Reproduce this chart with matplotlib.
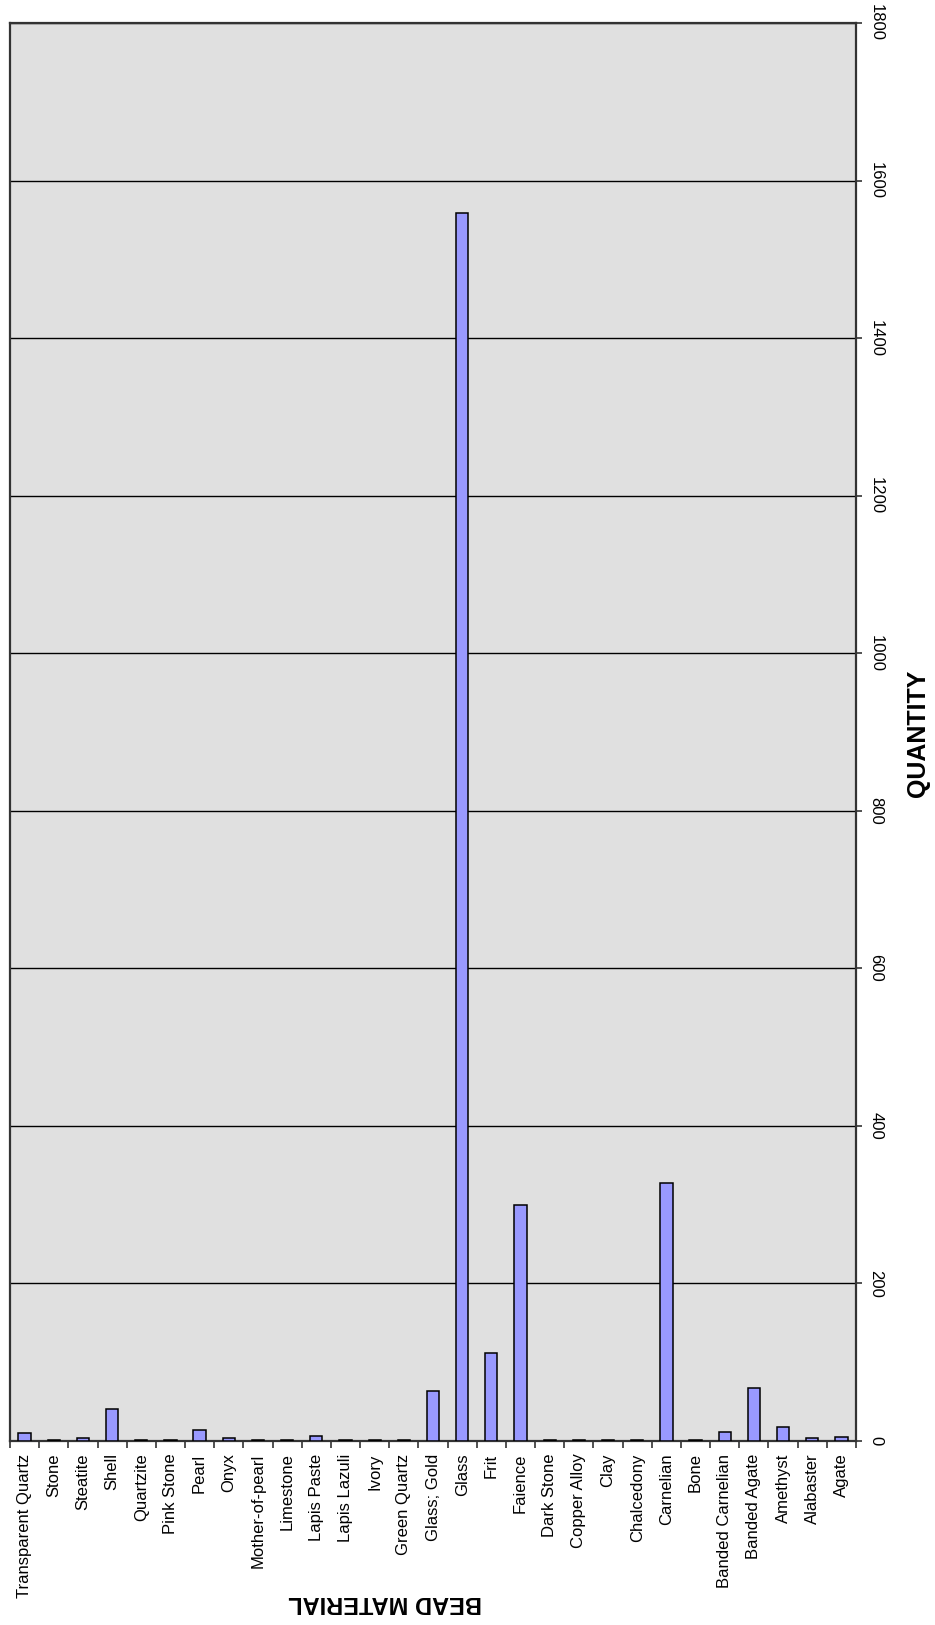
import matplotlib
matplotlib.use("Agg")
import matplotlib.pyplot as plt
import numpy as np

plt.rcParams['font.family'] = ['Liberation Sans', 'DejaVu Sans']

materials = ["Transparent Quartz", "Stone", "Steatite", "Shell", "Quartzite", "Pink Stone",
             "Pearl", "Onyx", "Mother-of-pearl", "Limestone", "Lapis Paste", "Lapis Lazuli",
             "Ivory", "Green Quartz", "Glass; Gold", "Glass", "Frit", "Faience", "Dark Stone",
             "Copper Alloy", "Clay", "Chalcedony", "Carnelian", "Bone", "Banded Carnelian",
             "Banded Agate", "Amethyst", "Alabaster", "Agate"]
quantities = [10, 1, 4, 41, 1, 1, 14, 4, 1, 1, 6, 1, 1, 1, 63, 1559, 112, 300, 1, 1, 1, 1,
              327, 1, 12, 67, 18, 4, 5]
y_ticks = [0, 200, 400, 600, 800, 1000, 1200, 1400, 1600, 1800]

W, H = 935, 1625
fig = plt.figure(figsize=(W / 100, H / 100), dpi=100)
ax = fig.add_axes([10 / W, 184 / H, (856 - 10) / W, (1441 - 23) / H])
ax.set_facecolor('#E0E0E0')

x = np.arange(len(materials))
ax.set_axisbelow(True)
ax.yaxis.grid(True, color='black', linewidth=1.0)
ax.bar(x, quantities, width=0.42, color='#9999FF', edgecolor='black', linewidth=1.1, zorder=3)

ax.set_xlim(-0.5, len(materials) - 0.5)
ax.set_ylim(0, 1800)

ax.set_xticks(x)
ax.set_xticklabels(materials, rotation=90, fontsize=12)
ax.set_xticks(np.arange(-0.5, len(materials), 1.0), minor=True)
ax.tick_params(axis='x', which='major', length=0, pad=9)
ax.tick_params(axis='x', which='minor', length=5, width=1.2, direction='out', color='#333333')

ax.yaxis.tick_right()
ax.set_yticks(y_ticks)
ax.set_yticklabels([str(v) for v in y_ticks], rotation=-90, fontsize=12, va='center')
ax.tick_params(axis='y', length=4, width=1.2, pad=5, color='#333333')

for s in ax.spines.values():
    s.set_color('#333333')
    s.set_linewidth(1.6)

fig.text(918 / W, 1 - 733 / H, "QUANTITY", rotation=90, fontsize=18, fontweight='bold',
         ha='center', va='center')
fig.text(385 / W, 1 - 1603 / H, "BEAD MATERIAL", rotation=180, fontsize=17, fontweight='bold',
         ha='center', va='center')

fig.savefig("out.png", dpi=100)
